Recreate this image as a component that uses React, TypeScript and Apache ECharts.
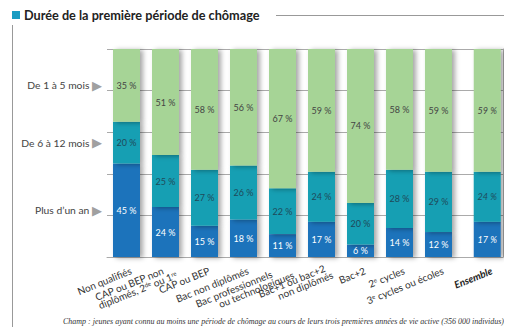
import React, { useEffect, useRef } from "react";
import * as echarts from "echarts";

const categories = [
  "Non qualifiés",
  "{a|CAP ou BEP non}\ndiplômés, 2{sup|de} ou 1{sup|re}",
  "CAP ou BEP",
  "Bac non diplômés",
  "{p|Bac professionnels}\nou technologiques",
  "{q|Bac+1 ou bac+2}\nnon diplômés",
  "Bac+2",
  "2{sup|e} cycles",
  "3{sup|e} cycles ou écoles",
  "{ens|Ensemble}",
];
const plusUnAn = [45, 24, 15, 18, 11, 17, 6, 14, 12, 17];
const de6a12 = [20, 25, 27, 26, 22, 24, 20, 28, 29, 24];
const de1a5 = [35, 51, 58, 56, 67, 59, 74, 58, 59, 59];
const seriesNames = ["Plus d’un an", "De 6 à 12 mois", "De 1 à 5 mois"];
const yTicks = [0, 20, 40, 60, 80, 100];

const ENSEMBLE_GAP = 0.25;
const positions = categories.map((_, i) => (i === categories.length - 1 ? i + ENSEMBLE_GAP : i));
// rotated labels sit slightly to the right of their bar centre
const labelValues = categories.map((c, i) => positions[i] + (c.includes("\n") ? 0.24 : 0.115));

const FONT = "Lato, 'Noto Sans', sans-serif";

export default function App() {
  const ref = useRef<HTMLDivElement>(null);
  useEffect(() => {
    if (!ref.current) return;
    const chart = echarts.init(ref.current, null, { renderer: "svg" });

    const yLabelValues = [
      plusUnAn[0] / 2,
      plusUnAn[0] + de6a12[0] / 2,
      plusUnAn[0] + de6a12[0] + de1a5[0] / 2,
    ];

    const last = categories.length - 1;
    const mk = (arr: number[], textColor: string) =>
      arr.map((v, i) => ({
        value: [v, positions[i]],
        label: {
          color: textColor,
          fontStyle: i === last ? "italic" : "normal",
        },
      }));

    const common = {
      type: "bar",
      stack: "total",
      barWidth: 27,
      encode: { x: 1, y: 0 },
      label: {
        show: true,
        position: "inside",
        fontSize: 9,
        fontFamily: FONT,
        formatter: (p: any) => `${p.value[0]} %`,
      },
    };
    const shadow = {
      shadowBlur: 5,
      shadowOffsetX: 3,
      shadowOffsetY: 1,
      shadowColor: "rgba(0,0,0,0.35)",
    };

    chart.setOption({
      animation: false,
      grid: { left: 99, right: 17, top: 41, bottom: 78 },
      xAxis: {
        type: "value",
        min: -0.5,
        max: 9.654,
        splitLine: { show: false },
        axisLine: { show: true, lineStyle: { color: "#aaa" } },
        axisTick: { show: false },
        axisLabel: {
          customValues: labelValues,
          rotate: 22,
          margin: 13,
          fontSize: 10,
          fontFamily: FONT,
          color: "#333",
          lineHeight: 9,
          formatter: (v: number) => {
            const idx = labelValues.findIndex((p) => Math.abs(p - v) < 1e-6);
            return idx >= 0 ? categories[idx] : "";
          },
          rich: {
            a: { fontSize: 10, color: "#333", fontFamily: FONT, padding: [0, 11, 0, 0] },
            p: { fontSize: 10, color: "#333", fontFamily: FONT, padding: [0, 20, 0, 0] },
            q: { fontSize: 10, color: "#333", fontFamily: FONT, padding: [0, 5, 0, 0] },
            sup: { fontSize: 6, verticalAlign: "top", color: "#333", fontFamily: FONT, padding: [0, 0, 3, 0] },
            ens: { fontSize: 10, fontWeight: "bold", fontStyle: "italic", color: "#222", fontFamily: FONT },
          },
        },
      },
      yAxis: [
        {
          type: "value",
          min: yTicks[0],
          max: yTicks[yTicks.length - 1],
          interval: 20,
          axisLine: { show: false },
          axisTick: { show: false },
          splitLine: { show: true, lineStyle: { color: "#aaa", width: 1 } },
          axisLabel: {
            customValues: yLabelValues,
            margin: 5,
            fontSize: 10.3,
            fontFamily: FONT,
            color: "#444",
            formatter: (v: number) => {
              const idx = yLabelValues.findIndex((p) => Math.abs(p - v) < 1e-6);
              return idx >= 0 ? `${seriesNames[idx]} {t|▶}` : "";
            },
            rich: {
              t: { fontSize: 13, color: "#a0a0a0", fontFamily: "'DejaVu Sans'" },
            },
          },
        },
        {
          type: "value",
          position: "right",
          min: 0,
          max: 100,
          axisLine: { show: true, lineStyle: { color: "#aaa" } },
          axisTick: { show: false },
          axisLabel: { show: false },
          splitLine: { show: false },
        },
      ],
      series: [
        { ...common, name: seriesNames[0], data: mk(plusUnAn, "#fff"), itemStyle: { ...shadow, color: "#1f73bb" } },
        { ...common, name: seriesNames[1], data: mk(de6a12, "#1f4a5a"), itemStyle: { ...shadow, color: "#159fb3" } },
        { ...common, name: seriesNames[2], data: mk(de1a5, "#444"), itemStyle: { ...shadow, color: "#a6d496" } },
      ],
      graphic: [
        { type: "rect", shape: { x: 4, y: 3, width: 8, height: 8 }, style: { fill: "#1a9cc2" } },
        {
          type: "text",
          x: 16,
          y: 0.5,
          style: { text: "Durée de la première période de chômage", fontSize: 12.7, fontWeight: "bold", fontFamily: FONT, fill: "#222" },
        },
        { type: "polyline", shape: { points: [[268, 7.5], [506.5, 7.5], [506.5, 322.5], [4.5, 322.5], [4.5, 17]] }, style: { stroke: "#999", fill: "none", lineWidth: 1 } },
        {
          type: "text",
          x: 498,
          y: 309.5,
          style: {
            text: "Champ : jeunes ayant connu au moins une période de chômage au cours de leurs trois premières années de vie active (356 000 individus).",
            fontSize: 8,
            fontStyle: "italic",
            fontFamily: "'Liberation Serif', serif",
            fill: "#333",
            align: "right",
          },
        },
      ],
    });
    return () => chart.dispose();
  }, []);
  return <div ref={ref} style={{ width: 512, height: 327 }} />;
}
